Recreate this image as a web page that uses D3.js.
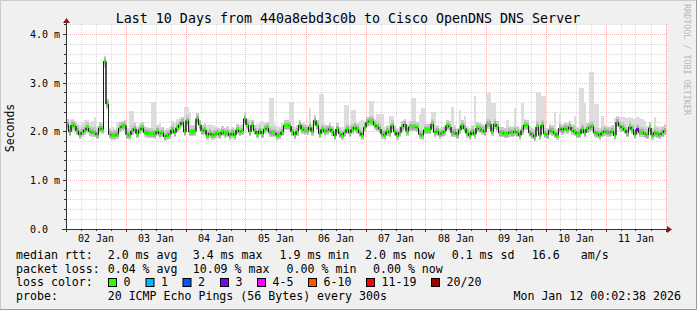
<!DOCTYPE html>
<html>
<head>
<meta charset="utf-8">
<script src="https://cdn.jsdelivr.net/npm/d3@7"></script>
<style>
  body { margin: 0; background: #fff; }
  svg text { font-family: "DejaVu Sans Mono", monospace; fill: #000; }
</style>
</head>
<body>
<div id="chart"></div>
<script>
// hourly median rtt in ms, Jan 2 00:00 -> Jan 12 00:00
const rttMedian = [
  2.15, 2.00, 2.14, 2.12, 2.02, 1.94, 1.99, 2.03, 2.08, 2.01, 1.99, 1.98, 1.94, 2.08, 2.05, 3.45, 2.57, 1.95, 1.93, 1.93,
  1.95, 2.08, 2.12, 2.13, 1.94, 1.93, 2.02, 2.06, 1.96, 2.04, 2.08, 1.99, 1.97, 1.96, 1.96, 1.95, 2.01, 1.96, 1.98, 1.90,
  1.93, 1.95, 2.04, 1.98, 2.08, 2.14, 2.20, 2.00, 2.23, 2.00, 2.00, 2.01, 2.27, 2.14, 2.02, 2.04, 1.93, 1.97, 1.93, 1.95,
  1.97, 1.94, 2.00, 1.97, 1.98, 1.93, 1.97, 1.93, 2.04, 2.00, 2.02, 2.27, 2.14, 2.00, 2.14, 2.02, 1.96, 2.02, 1.96, 2.05,
  2.08, 1.99, 1.98, 1.98, 1.93, 1.94, 2.00, 2.13, 2.13, 2.12, 2.00, 1.94, 2.01, 2.14, 2.05, 2.03, 2.03, 2.09, 2.01, 2.23,
  2.13, 1.96, 2.05, 2.01, 2.03, 2.06, 2.01, 1.92, 2.06, 1.96, 1.93, 1.98, 2.05, 1.98, 2.05, 2.09, 2.05, 1.98, 1.93, 2.09,
  2.20, 2.22, 2.22, 2.14, 2.10, 2.06, 1.95, 1.93, 2.01, 1.98, 2.13, 2.00, 1.93, 1.98, 2.10, 2.16, 2.01, 2.10, 2.10, 2.10,
  2.08, 1.95, 1.93, 2.04, 2.04, 2.04, 2.16, 1.99, 2.01, 1.95, 1.98, 2.01, 2.13, 2.10, 1.98, 1.99, 1.94, 2.04, 2.13, 2.07,
  1.97, 1.93, 2.00, 1.95, 2.08, 2.06, 2.03, 2.00, 2.16, 2.16, 2.01, 2.16, 2.10, 1.98, 1.98, 1.96, 1.96, 1.99, 1.98, 2.01,
  1.98, 1.93, 2.03, 2.14, 2.13, 1.98, 1.94, 1.90, 2.10, 1.93, 2.14, 1.96, 1.94, 2.03, 2.01, 1.96, 1.93, 2.07, 2.03, 2.07,
  2.05, 2.10, 2.03, 2.00, 1.96, 1.96, 2.05, 1.98, 2.06, 2.09, 2.11, 1.98, 1.96, 1.93, 1.98, 2.01, 1.99, 1.98, 2.01, 1.93,
  2.20, 2.12, 2.08, 2.04, 1.98, 2.10, 2.05, 1.94, 2.05, 1.99, 1.99, 1.96, 1.94, 2.08, 1.93, 1.98, 1.96, 1.94, 1.98, 2.02
];

// fastest ping of each hour (ms)
const smokeLow = [
  2.02, 1.93, 2.02, 1.98, 1.94, 1.88, 1.91, 1.95, 1.98, 1.93, 1.91, 1.90, 1.87, 1.97, 1.96, 3.32, 2.46, 1.88, 1.86, 1.87,
  1.88, 1.98, 2.02, 2.03, 1.87, 1.86, 1.94, 1.97, 1.89, 1.95, 1.98, 1.92, 1.90, 1.89, 1.89, 1.88, 1.93, 1.89, 1.90, 1.84,
  1.86, 1.88, 1.96, 1.91, 1.99, 2.05, 2.10, 1.92, 2.12, 1.92, 1.92, 1.93, 2.16, 2.05, 1.94, 1.96, 1.86, 1.89, 1.86, 1.88,
  1.90, 1.87, 1.92, 1.90, 1.90, 1.86, 1.90, 1.86, 1.96, 1.92, 1.94, 2.15, 2.05, 1.92, 2.04, 1.94, 1.89, 1.94, 1.89, 1.96,
  1.99, 1.92, 1.91, 1.91, 1.86, 1.87, 1.92, 2.04, 2.04, 2.03, 1.92, 1.87, 1.93, 2.05, 1.97, 1.95, 1.95, 2.00, 1.93, 2.12,
  2.04, 1.89, 1.97, 1.93, 1.95, 1.97, 1.93, 1.85, 1.97, 1.89, 1.86, 1.91, 1.97, 1.91, 1.97, 2.00, 1.97, 1.91, 1.86, 2.00,
  2.10, 2.12, 2.12, 2.05, 2.01, 1.97, 1.88, 1.86, 1.93, 1.91, 2.04, 1.92, 1.86, 1.91, 2.01, 2.06, 1.93, 2.01, 2.01, 2.01,
  1.99, 1.88, 1.86, 1.95, 1.95, 1.95, 2.06, 1.91, 1.93, 1.88, 1.90, 1.93, 2.04, 2.01, 1.90, 1.91, 1.87, 1.95, 2.04, 1.98,
  1.89, 1.86, 1.92, 1.88, 1.99, 1.97, 1.94, 1.92, 2.06, 2.06, 1.93, 2.06, 2.01, 1.90, 1.90, 1.89, 1.89, 1.91, 1.90, 1.93,
  1.90, 1.86, 1.94, 2.05, 2.04, 1.90, 1.87, 1.83, 2.01, 1.86, 2.05, 1.89, 1.87, 1.94, 1.93, 1.89, 1.86, 1.98, 1.94, 1.98,
  1.96, 2.01, 1.94, 1.92, 1.89, 1.89, 1.96, 1.90, 1.97, 2.00, 2.02, 1.90, 1.89, 1.86, 1.90, 1.93, 1.91, 1.90, 1.93, 1.86,
  2.10, 2.03, 1.99, 1.95, 1.90, 2.01, 1.96, 1.87, 1.96, 1.91, 1.91, 1.89, 1.87, 1.99, 1.86, 1.90, 1.89, 1.87, 1.90, 1.94
];

// slowest ping of each hour (ms)
const smokeHigh = [
  2.25, 2.24, 2.26, 2.22, 2.18, 2.14, 2.20, 2.24, 2.25, 2.18, 2.22, 2.30, 2.12, 2.18, 2.20, 3.52, 2.65, 2.08, 2.10, 2.06,
  2.20, 2.15, 2.20, 2.24, 2.08, 2.43, 2.43, 2.20, 2.12, 2.18, 2.16, 2.12, 2.10, 2.08, 2.61, 2.61, 2.14, 2.18, 2.10, 2.04,
  2.08, 2.12, 2.22, 2.20, 2.26, 2.28, 2.30, 2.52, 2.52, 2.40, 2.14, 2.16, 2.33, 2.24, 2.14, 2.18, 2.15, 2.16, 2.15, 2.12,
  2.10, 2.08, 2.12, 2.08, 2.12, 2.06, 2.10, 2.06, 2.16, 2.14, 2.16, 2.34, 2.28, 2.24, 2.22, 2.14, 2.16, 2.20, 2.22, 2.18,
  2.20, 2.70, 2.70, 2.16, 2.12, 2.10, 2.18, 2.24, 2.22, 2.61, 2.61, 2.10, 2.14, 2.22, 2.18, 2.16, 2.14, 2.50, 2.16, 2.30,
  2.24, 2.77, 2.77, 2.16, 2.14, 2.16, 2.12, 2.06, 2.18, 2.10, 2.10, 2.55, 2.55, 2.14, 2.45, 2.45, 2.18, 2.22, 2.24, 2.20,
  2.30, 2.64, 2.64, 2.26, 2.36, 2.36, 2.36, 2.10, 2.14, 2.33, 2.33, 2.14, 2.08, 2.12, 2.20, 2.24, 2.16, 2.22, 2.70, 2.70,
  2.18, 2.36, 2.50, 2.50, 2.16, 2.18, 2.40, 2.40, 2.14, 2.08, 2.10, 2.14, 2.24, 2.22, 2.52, 2.14, 2.08, 2.45, 2.24, 2.33,
  2.12, 2.08, 2.14, 2.73, 2.20, 2.18, 2.16, 2.14, 2.80, 2.80, 2.60, 2.60, 2.22, 2.10, 2.10, 2.08, 2.24, 2.12, 2.10, 2.50,
  2.12, 2.08, 2.60, 2.26, 2.24, 2.12, 2.08, 2.04, 2.83, 2.83, 2.73, 2.73, 2.08, 2.16, 2.14, 2.40, 2.06, 2.36, 2.16, 2.20,
  2.18, 2.22, 2.16, 2.33, 2.10, 2.90, 2.90, 2.60, 2.18, 3.23, 3.23, 2.58, 2.58, 2.08, 2.33, 2.14, 2.12, 2.10, 2.14, 2.28,
  2.32, 2.30, 2.30, 2.30, 2.28, 2.30, 2.28, 2.26, 2.30, 2.28, 2.26, 2.22, 2.12, 2.20, 2.08, 2.30, 2.12, 2.10, 2.12, 2.16
];

// hours that lost pings (out of 20)
const lossAt = [228];
const lossPings = [3];

const lossColors = ["#26ff00", "#00b8ff", "#0059ff", "#7e00ff", "#ff00ff", "#ff5500", "#ff0000", "#a10000"];
const lossLabels = ["0", "1", "2", "3", "4-5", "6-10", "11-19", "20/20"];
const lossUpper = [0, 1, 2, 3, 5, 10, 19, 20];

const yTicks = [0, 1, 2, 3, 4];
const rttStats = ["2.0 ms avg", "3.4 ms max", "1.9 ms min", "2.0 ms now", "0.1 ms sd", "16.6", "am/s"];
const lossStats = ["0.04 % avg", "10.09 % max", "0.00 % min", "0.00 % now"];

const WIDTH = 697, HEIGHT = 310;
const PLOT = {left: 66, right: 666, top: 24, bottom: 229};

const START = Date.UTC(2026, 0, 2, 0, 0, 0);
const END = Date.UTC(2026, 0, 12, 0, 0, 0);
const HOUR = 3600 * 1000;

const X_SCALE = d3.scaleUtc().domain([START, END]).range([PLOT.left, PLOT.right]);
const Y_SCALE = d3.scaleLinear().domain([0, 4.22]).range([PLOT.bottom, PLOT.top]);

const svg = d3.select("#chart").append("svg")
  .attr("width", WIDTH).attr("height", HEIGHT);

// background + frame
svg.append("rect").attr("width", WIDTH).attr("height", HEIGHT).attr("fill", "#f0f0f0");
svg.append("rect").attr("x", PLOT.left).attr("y", PLOT.top)
  .attr("width", PLOT.right - PLOT.left).attr("height", PLOT.bottom - PLOT.top).attr("fill", "#fff");
svg.append("path").attr("d", `M0.5,${HEIGHT} V0.5 H${WIDTH}`).attr("stroke", "#cbcbcb").attr("stroke-width", 1).attr("fill", "none");
svg.append("path").attr("d", `M0,${HEIGHT - 0.5} H${WIDTH - 0.5} V0`).attr("stroke", "#999").attr("stroke-width", 1).attr("fill", "none");

const crisp = v => Math.floor(v) + 0.5;
const MGRID = "rgba(235,80,80,0.4)", GRID = "rgba(150,150,150,0.35)";

// grid
const grid = svg.append("g").attr("shape-rendering", "crispEdges").attr("stroke-dasharray", "1,1");
const minorY = d3.range(1, 22).map(k => k * 0.2);
minorY.forEach((v, k) => {
  const major = (k + 1) % 5 === 0;
  grid.append("line")
    .attr("x1", PLOT.left).attr("x2", PLOT.right + 2)
    .attr("y1", crisp(Y_SCALE(v))).attr("y2", crisp(Y_SCALE(v)))
    .attr("stroke", major ? MGRID : GRID);
});
const sixHours = d3.utcHour.every(6).range(START + 1, END + 1);
sixHours.forEach(t => {
  const major = t.getUTCHours() === 0;
  grid.append("line")
    .attr("x1", crisp(X_SCALE(t))).attr("x2", crisp(X_SCALE(t)))
    .attr("y1", PLOT.top).attr("y2", PLOT.bottom)
    .attr("stroke", major ? MGRID : GRID);
});

// smoke
const steps = rttMedian.map((m, i) => ({
  i: i, median: m, low: smokeLow[i], high: smokeHigh[i],
  x0: X_SCALE(START + i * HOUR), x1: X_SCALE(START + (i + 1) * HOUR)
}));

const smoke = svg.append("g").attr("shape-rendering", "crispEdges");
smoke.selectAll("rect.outer").data(steps).enter().append("rect")
  .attr("x", d => d.x0).attr("width", d => d.x1 - d.x0 + 0.2)
  .attr("y", d => Y_SCALE(d.high)).attr("height", d => Y_SCALE(d.low) - Y_SCALE(d.high))
  .attr("fill", "#dddddd");
smoke.selectAll("rect.mid").data(steps).enter().append("rect")
  .attr("x", d => d.x0).attr("width", d => d.x1 - d.x0 + 0.2)
  .attr("y", d => Y_SCALE(d.median) - 5.5).attr("height", 10)
  .attr("fill", "#cacaca");
smoke.selectAll("rect.inner").data(steps).enter().append("rect")
  .attr("x", d => d.x0).attr("width", d => d.x1 - d.x0 + 0.2)
  .attr("y", d => Y_SCALE(d.median) - 3).attr("height", 6)
  .attr("fill", "#ababab");

// median line
const linePts = steps.map(d => [d.x0, Y_SCALE(d.median)]);
linePts.push([PLOT.right, Y_SCALE(rttMedian[rttMedian.length - 1])]);
svg.append("path")
  .attr("d", d3.line().curve(d3.curveStepAfter)(linePts))
  .attr("fill", "none").attr("stroke", "#202020").attr("stroke-width", 1);

// loss colour band round the median
function lossBin(n) {
  for (let k = 0; k < lossUpper.length; k++) if (n <= lossUpper[k]) return k;
  return lossUpper.length - 1;
}
svg.append("g").attr("shape-rendering", "crispEdges")
  .selectAll("rect").data(steps).enter().append("rect")
  .attr("x", d => d.x0).attr("width", d => d.x1 - d.x0 + 0.2)
  .attr("y", d => Y_SCALE(d.median) - 1.5).attr("height", 3)
  .attr("fill", d => {
    const k = lossAt.indexOf(d.i);
    return lossColors[lossBin(k < 0 ? 0 : lossPings[k])];
  });

// the median's risers stay visible over the colour band
svg.append("g").attr("stroke", "#202020").attr("stroke-width", 1)
  .selectAll("line").data(steps.slice(1)).enter().append("line")
  .attr("x1", d => d.x0).attr("x2", d => d.x0)
  .attr("y1", d => Y_SCALE(rttMedian[d.i - 1])).attr("y2", d => Y_SCALE(d.median));

// axes
const axis = svg.append("g").attr("stroke", "#333").attr("shape-rendering", "crispEdges");
axis.append("line").attr("x1", PLOT.left - 4).attr("x2", PLOT.right + 2)
  .attr("y1", crisp(PLOT.bottom)).attr("y2", crisp(PLOT.bottom));
axis.append("line").attr("x1", crisp(PLOT.left)).attr("x2", crisp(PLOT.left))
  .attr("y1", PLOT.bottom + 3).attr("y2", PLOT.top - 1);
minorY.forEach((v, k) => {
  const major = (k + 1) % 5 === 0;
  axis.append("line").attr("x1", PLOT.left - (major ? 3 : 2)).attr("x2", PLOT.left)
    .attr("y1", crisp(Y_SCALE(v))).attr("y2", crisp(Y_SCALE(v)));
});
sixHours.forEach(t => {
  const major = t.getUTCHours() === 0;
  axis.append("line").attr("x1", crisp(X_SCALE(t))).attr("x2", crisp(X_SCALE(t)))
    .attr("y1", PLOT.bottom).attr("y2", PLOT.bottom + (major ? 3 : 2));
});
svg.append("path").attr("fill", "#8b1a1a")
  .attr("d", `M${PLOT.right + 1},${PLOT.bottom - 3} L${PLOT.right + 6},${PLOT.bottom + 0.5} L${PLOT.right + 1},${PLOT.bottom + 4} Z`);
svg.append("path").attr("fill", "#8b1a1a")
  .attr("d", `M${PLOT.left - 3},${PLOT.top - 1} L${PLOT.left + 0.5},${PLOT.top - 6} L${PLOT.left + 4},${PLOT.top - 1} Z`);

// tick labels
svg.append("g").selectAll("text").data(yTicks).enter().append("text")
  .attr("x", 30).attr("y", d => Y_SCALE(d) + 3.5)
  .attr("font-size", "10px")
  .text(d => d === 0 ? "0.0" : d.toFixed(1) + " m");

const days = d3.utcDay.range(START, END);
svg.append("g").selectAll("text").data(days).enter().append("text")
  .attr("x", d => X_SCALE(d.getTime() + 12 * HOUR)).attr("y", 242)
  .attr("text-anchor", "middle").attr("font-size", "10px")
  .text(d => d3.utcFormat("%d %b")(d));

// titles
svg.append("text").attr("x", 348).attr("y", 23).attr("text-anchor", "middle")
  .attr("font-size", "13.3px").text("Last 10 Days from 440a8ebd3c0b to Cisco OpenDNS DNS Server");
svg.append("text").attr("transform", "translate(14,128) rotate(-90)").attr("text-anchor", "middle")
  .attr("font-size", "11.5px").text("Seconds");
svg.append("text").attr("transform", "translate(684,4) rotate(90)")
  .attr("font-size", "8.4px").style("fill", "#b8b8b8").text("RRDTOOL / TOBI OETIKER");

// legend
const LEG = 11.6;
const colX = [107.7, 192.7, 279.5, 365, 451.7, 531.8, 580.8];
svg.append("text").attr("x", 16).attr("y", 259).attr("font-size", LEG + "px").text("median rtt:");
rttStats.forEach((s, k) => {
  svg.append("text").attr("x", colX[k]).attr("y", 259).attr("font-size", LEG + "px").text(s);
});
const lossX = [107.7, 192.7, 286.6, 373];
svg.append("text").attr("x", 16).attr("y", 272.5).attr("font-size", LEG + "px").text("packet loss:");
lossStats.forEach((s, k) => {
  svg.append("text").attr("x", lossX[k]).attr("y", 272.5).attr("font-size", LEG + "px").text(s);
});
const boxX = [108, 145.5, 182.5, 220, 257, 308, 366, 431];
svg.append("text").attr("x", 16).attr("y", 286).attr("font-size", LEG + "px").text("loss color:");
lossLabels.forEach((s, k) => {
  svg.append("rect").attr("x", boxX[k] + 0.5).attr("y", 278.5).attr("width", 8).attr("height", 8)
    .attr("fill", lossColors[k]).attr("stroke", "#000").attr("stroke-width", 1);
  svg.append("text").attr("x", boxX[k] + 15.5).attr("y", 286).attr("font-size", LEG + "px").text(s);
});
svg.append("text").attr("x", 16).attr("y", 300).attr("font-size", LEG + "px").text("probe:");
svg.append("text").attr("x", 107.7).attr("y", 300).attr("font-size", LEG + "px")
  .text("20 ICMP Echo Pings (56 Bytes) every 300s");
svg.append("text").attr("x", 681).attr("y", 300).attr("text-anchor", "end").attr("font-size", LEG + "px")
  .text("Mon Jan 12 00:02:38 2026");
</script>
</body>
</html>
